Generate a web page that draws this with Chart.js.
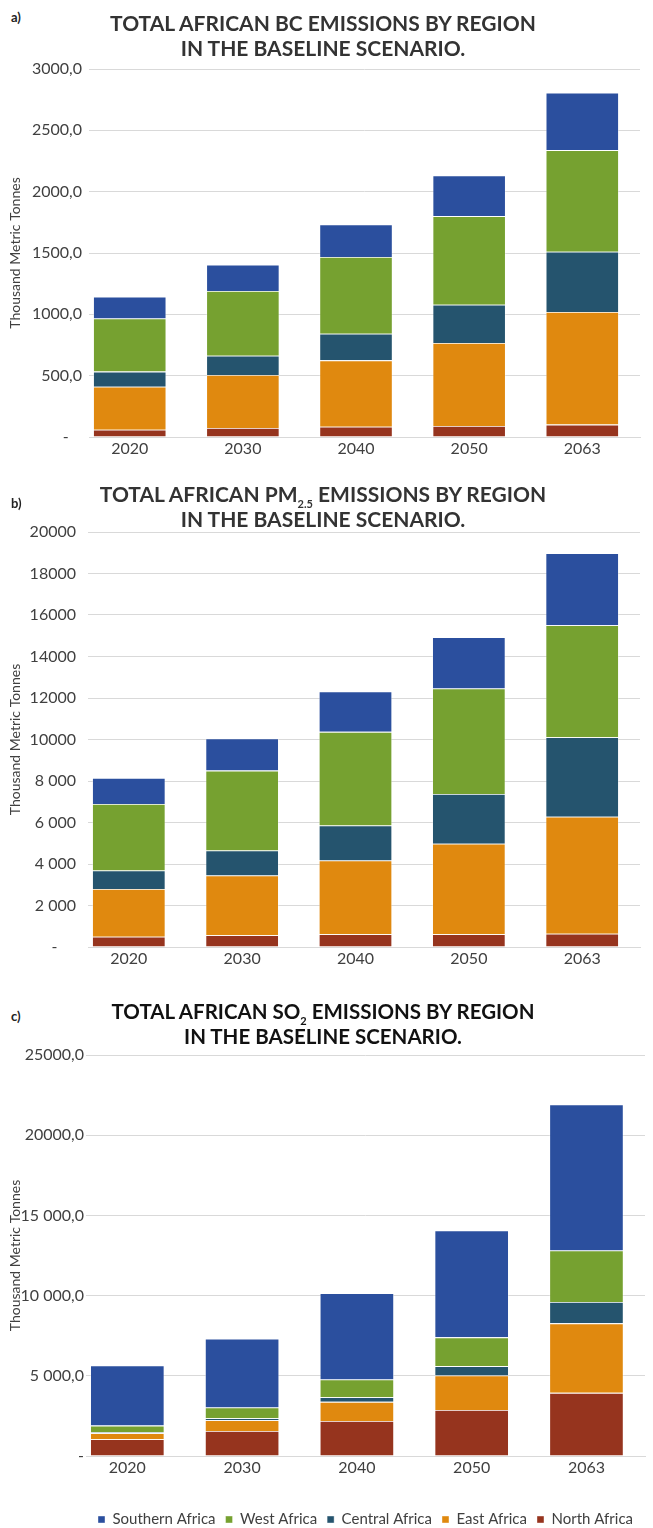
<!DOCTYPE html>
<html>
<head>
<meta charset="utf-8">
<script src="https://cdn.jsdelivr.net/npm/chart.js@4.4.1/dist/chart.umd.min.js"></script>
<style>
  html, body { margin: 0; padding: 0; background: #fff; overflow: hidden; }
  body { width: 653px; height: 1528px; position: relative; font-family: Lato, sans-serif; }
  canvas { position: absolute; left: 0; }
  .tag { position: absolute; left: 11px; font-size: 13px; font-weight: 700; color: #222; z-index: 2; }
  .title { position: absolute; left: 0; width: 646px; text-align: center; font-size: 21px;
           font-weight: 700; line-height: 25px; color: #333; z-index: 2; }
  .title sub { font-size: 11px; vertical-align: -6px; line-height: 0; }
</style>
</head>
<body>
<div class="tag" style="top:9px">a)</div>
<div class="title" style="top:10px">TOTAL AFRICAN BC EMISSIONS BY REGION<br>IN THE BASELINE SCENARIO.</div>
<canvas id="bc-chart" width="653" height="408" style="top:52px"></canvas>

<div class="tag" style="top:495px">b)</div>
<div class="title" style="top:481px">TOTAL AFRICAN PM<sub>2.5</sub> EMISSIONS BY REGION<br>IN THE BASELINE SCENARIO.</div>
<canvas id="pm-chart" width="653" height="465" style="top:510px"></canvas>

<div class="tag" style="top:1008px">c)</div>
<div class="title" style="top:999px; color:#111; font-size:20.5px">TOTAL AFRICAN SO<sub>2</sub> EMISSIONS BY REGION<br>IN THE BASELINE SCENARIO.</div>
<canvas id="so2-chart" width="653" height="495" style="top:1042px"></canvas>

<script>
// categories and series (thousand metric tonnes)
const years = ['2020', '2030', '2040', '2050', '2063'];
const regions = ['North Africa', 'East Africa', 'Central Africa', 'West Africa', 'Southern Africa'];
const regionColors = ['#96341e', '#e0890f', '#25546e', '#76a130', '#2b4f9e'];

// a) black carbon
const bcNorth = [60, 73, 84, 90, 101];
const bcEast = [350, 432, 541, 676, 918];
const bcCentral = [123, 158, 217, 313, 492];
const bcWest = [434, 527, 625, 722, 828];
const bcSouthern = [177, 215, 266, 332, 468];
const bcTicks = ['- \u2007', '500,0', '1000,0', '1500,0', '2000,0', '2500,0', '3000,0'];

// b) PM2.5
const pmNorth = [499, 564, 612, 612, 644];
const pmEast = [2302, 2881, 3558, 4363, 5635];
const pmCentral = [886, 1208, 1690, 2399, 3832];
const pmWest = [3204, 3848, 4508, 5087, 5393];
const pmSouthern = [1256, 1545, 1949, 2464, 3478];
const pmTicks = ['-\u2007\u2007', '2 000', '4 000', '6 000', '8 000', '10000', '12000', '14000', '16000', '18000', '20000'];

// c) SO2
const so2North = [1042, 1562, 2187, 2875, 3937];
const so2East = [375, 667, 1188, 2146, 4334];
const so2Central = [62, 125, 292, 583, 1333];
const so2West = [417, 667, 1104, 1792, 3208];
const so2Southern = [3750, 4291, 5375, 6666, 9104];
const so2Ticks = ['-', '5 000,0', '10 000,0', '15 000,0', '20000,0', '25000,0'];

Chart.defaults.font.family = 'Lato, sans-serif';

function buildChart(id, series, opts) {
  return new Chart(document.getElementById(id), {
    type: 'bar',
    data: {
      datasets: series.map((vals, i) => ({
        label: regions[i],
        data: vals.map((v, j) => ({ x: j, y: v })),
        backgroundColor: regionColors[i],
        borderColor: 'rgba(255,255,255,0.5)',
        borderWidth: 0.8,
        categoryPercentage: 1,
        barPercentage: 0.647,
      })),
    },
    options: {
      responsive: false,
      animation: false,
      layout: {
        padding: { top: opts.padTop, right: opts.padRight, left: 0, bottom: 0 },
      },
      plugins: {
        legend: opts.legend || { display: false },
        tooltip: { enabled: false },
      },
      scales: {
        x: {
          type: 'linear',
          stacked: true,
          offset: false,
          min: -0.36,
          max: 4.51,
          grid: { display: false, drawTicks: false },
          border: { color: '#d9d9d9' },
          ticks: {
            stepSize: 1,
            includeBounds: false,
            padding: 2,
            color: '#404040',
            font: { size: 16 },
            callback: (v) => years[v],
          },
          afterFit: (s) => { s.height = opts.xHeight; },
        },
        y: {
          stacked: true,
          min: 0,
          max: opts.max,
          grid: { color: '#d9d9d9', drawTicks: false },
          border: { display: false },
          ticks: {
            stepSize: opts.step,
            padding: opts.tickPad,
            color: '#404040',
            font: { size: 16 },
            callback: (v) => opts.tickLabels[Math.round(v / opts.step)],
          },
          title: {
            display: true,
            text: 'Thousand Metric Tonnes',
            color: '#404040',
            font: { size: 14 },
            padding: { top: 7, bottom: 0 },
          },
          afterFit: (s) => { s.width = opts.plotLeft; },
        },
      },
    },
  });
}

buildChart('bc-chart', [bcNorth, bcEast, bcCentral, bcWest, bcSouthern], {
  max: 3000, step: 500, tickLabels: bcTicks,
  padTop: 17, padRight: 13, plotLeft: 89, tickPad: 7, xHeight: 23,
});

buildChart('pm-chart', [pmNorth, pmEast, pmCentral, pmWest, pmSouthern], {
  max: 20000, step: 2000, tickLabels: pmTicks,
  padTop: 22, padRight: 13, plotLeft: 88, tickPad: 12, xHeight: 28,
});

buildChart('so2-chart', [so2North, so2East, so2Central, so2West, so2Southern], {
  max: 25000, step: 5000, tickLabels: so2Ticks,
  padTop: 13, padRight: 8, plotLeft: 86, tickPad: 2, xHeight: 46,
  legend: {
    display: true,
    position: 'bottom',
    fullSize: false,
    reverse: true,
    labels: {
      boxWidth: 7,
      boxHeight: 7,
      padding: 10,
      color: '#404040',
      font: { size: 15 },
    },
  },
});
</script>
</body>
</html>
